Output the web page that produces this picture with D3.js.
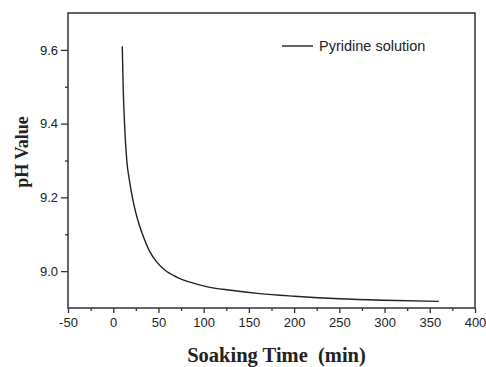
<!DOCTYPE html>
<html>
<head>
<meta charset="utf-8">
<script src="https://d3js.org/d3.v7.min.js"></script>
<style>
  body { margin: 0; background: #fff; }
  svg text { fill: #222; }
</style>
</head>
<body>
<div id="chart"></div>
<script>
/* Data */
const soakTime = [10, 11, 12.5, 15, 18, 22, 27, 33, 40, 48, 57, 70, 85, 103, 130, 162, 200, 250, 300, 360];
const phValue  = [9.61, 9.50, 9.40, 9.30, 9.245, 9.19, 9.14, 9.096, 9.055, 9.025, 9.003, 8.984, 8.970, 8.958, 8.948, 8.939, 8.932, 8.925, 8.921, 8.918];
const xTicks = [-50, 0, 50, 100, 150, 200, 250, 300, 350, 400];
const yTicks = [9.0, 9.2, 9.4, 9.6];
const seriesName = 'Pyridine solution';

const W = 486, H = 367;
const M = { top: 13, right: 11, bottom: 59, left: 68 };

const svg = d3.select('#chart').append('svg')
  .attr('width', W).attr('height', H);

const x = d3.scaleLinear().domain([-50, 400]).range([M.left, W - M.right]);
const y = d3.scaleLinear().domain([8.9, 9.7]).range([H - M.bottom, M.top]);

const ink = '#333';
const sans = 'Liberation Sans, Arial, sans-serif';
const serif = 'Liberation Serif, Times New Roman, serif';

/* frame */
svg.append('rect')
  .attr('x', x(-50)).attr('y', y(9.7))
  .attr('width', x(400) - x(-50)).attr('height', y(8.9) - y(9.7))
  .attr('fill', 'none').attr('stroke', ink).attr('stroke-width', 1.5);

/* x axis: minors then majors */
const xMin = svg.append('g').attr('transform', `translate(0,${y(8.9)})`)
  .call(d3.axisBottom(x).tickValues(d3.range(-25, 400, 50)).tickSize(3).tickFormat(''));
xMin.select('.domain').remove();
const xMaj = svg.append('g').attr('transform', `translate(0,${y(8.9)})`)
  .call(d3.axisBottom(x).tickValues(xTicks).tickSize(5).tickPadding(5).tickFormat(d => String(d)));
xMaj.select('.domain').remove();
xMaj.selectAll('text').attr('font-family', sans).attr('font-size', 13).attr('fill', '#222');

/* y axis */
const yMin = svg.append('g').attr('transform', `translate(${x(-50)},0)`)
  .call(d3.axisLeft(y).tickValues([9.1, 9.3, 9.5]).tickSize(3).tickFormat(''));
yMin.select('.domain').remove();
const yMaj = svg.append('g').attr('transform', `translate(${x(-50)},0)`)
  .call(d3.axisLeft(y).tickValues(yTicks).tickSize(7).tickPadding(3).tickFormat(d3.format('.1f')));
yMaj.select('.domain').remove();
yMaj.selectAll('text').attr('font-family', sans).attr('font-size', 13).attr('fill', '#222');

svg.selectAll('.tick line').attr('stroke', ink).attr('stroke-width', 1.3);

/* curve */
const pts = soakTime.map((t, i) => [t, phValue[i]]);
svg.append('path')
  .datum(pts)
  .attr('fill', 'none')
  .attr('stroke', '#222')
  .attr('stroke-width', 1.4)
  .attr('d', d3.line().x(d => x(d[0])).y(d => y(d[1])).curve(d3.curveMonotoneX));

/* legend */
svg.append('line')
  .attr('x1', 282).attr('x2', 313).attr('y1', 46).attr('y2', 46)
  .attr('stroke', '#222').attr('stroke-width', 1.4);
svg.append('text')
  .attr('x', 319).attr('y', 51)
  .attr('font-family', sans)
  .attr('font-size', 14.5)
  .text(seriesName);

/* axis titles */
svg.append('text')
  .attr('x', 276.5).attr('y', 362)
  .attr('text-anchor', 'middle')
  .attr('font-family', serif)
  .attr('font-weight', 'bold').attr('font-size', 20.5)
  .style('white-space', 'pre')
  .text('Soaking Time  (min)');

svg.append('text')
  .attr('transform', 'translate(28,152) rotate(-90)')
  .attr('text-anchor', 'middle')
  .attr('font-family', serif)
  .attr('font-weight', 'bold').attr('font-size', 18)
  .text('pH Value');
</script>
</body>
</html>
